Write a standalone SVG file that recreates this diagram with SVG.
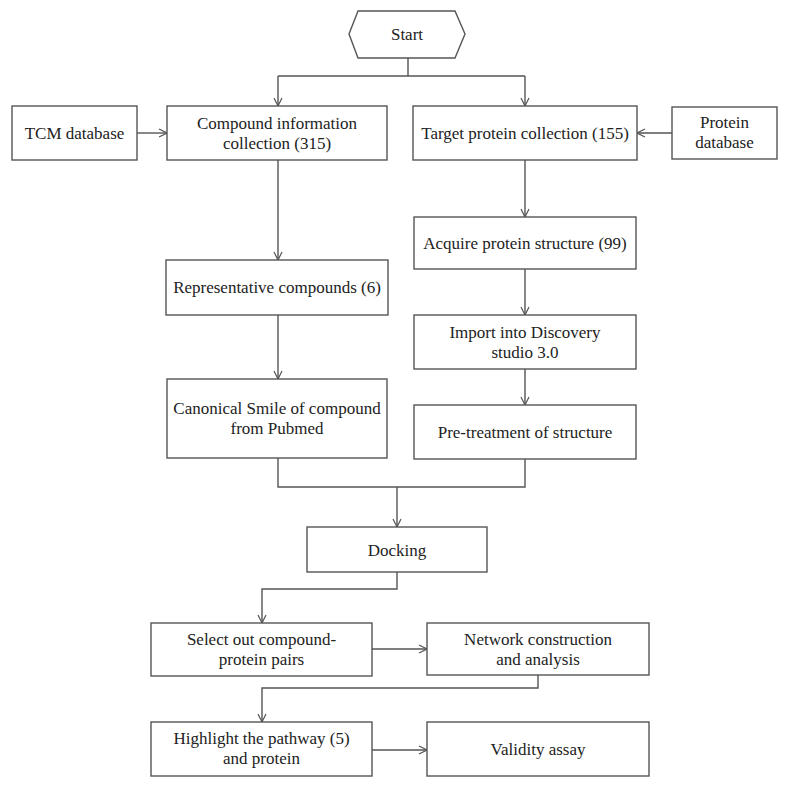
<svg xmlns="http://www.w3.org/2000/svg" width="788" height="787" viewBox="0 0 788 787">
<defs>
<style>
.box{fill:#fff;stroke:#555;stroke-width:1.4}
.t{font-family:"Liberation Serif","Times New Roman",serif;font-size:17px;fill:#222;text-anchor:middle}
.c{fill:none;stroke:#555;stroke-width:1.4}
</style>
<marker id="a" viewBox="0 0 10 10" refX="9" refY="5" markerWidth="10" markerHeight="10" markerUnits="userSpaceOnUse" orient="auto">
<path d="M1,1 L9,5 L1,9" fill="none" stroke="#555" stroke-width="1.2"/>
</marker>
</defs>
<rect width="788" height="787" fill="#fff"/>
<g id="connectors">
<path class="c" d="M408,58 V76 M278,76 H525"/>
<path class="c" d="M278,76 V106" marker-end="url(#a)"/>
<path class="c" d="M525,76 V106" marker-end="url(#a)"/>
<path class="c" d="M137,133 H167" marker-end="url(#a)"/>
<path class="c" d="M672,133 H637" marker-end="url(#a)"/>
<path class="c" d="M278,160 V260" marker-end="url(#a)"/>
<path class="c" d="M278,315 V379" marker-end="url(#a)"/>
<path class="c" d="M525,160 V217" marker-end="url(#a)"/>
<path class="c" d="M525,269 V315" marker-end="url(#a)"/>
<path class="c" d="M525,369 V405" marker-end="url(#a)"/>
<path class="c" d="M278,458 V487 H525 V459"/>
<path class="c" d="M397,487 V527" marker-end="url(#a)"/>
<path class="c" d="M397,572 V589 H262 V623" marker-end="url(#a)"/>
<path class="c" d="M372,649 H427" marker-end="url(#a)"/>
<path class="c" d="M538,675 V688 H262 V722" marker-end="url(#a)"/>
<path class="c" d="M372,750 H427" marker-end="url(#a)"/>
</g>
<g id="start"><polygon class="box" points="349,34 358,11 455,11 465,34 455,58 358,58"/><text class="t" x="407" y="40">Start</text></g>
<g id="tcm"><rect class="box" x="12" y="106" width="125" height="54"/><text class="t" x="74.5" y="139">TCM database</text></g>
<g id="compound"><rect class="box" x="167" y="106" width="220" height="54"/><text class="t" x="277" y="129">Compound information</text><text class="t" x="277" y="149">collection (315)</text></g>
<g id="target"><rect class="box" x="413" y="106" width="224" height="54"/><text class="t" x="525" y="139">Target protein collection (155)</text></g>
<g id="proteindb"><rect class="box" x="672" y="107" width="105" height="52"/><text class="t" x="724.5" y="128">Protein</text><text class="t" x="724.5" y="148">database</text></g>
<g id="rep"><rect class="box" x="166" y="260" width="222" height="55"/><text class="t" x="277" y="293">Representative compounds (6)</text></g>
<g id="acquire"><rect class="box" x="414" y="217" width="222" height="52"/><text class="t" x="525" y="249">Acquire protein structure (99)</text></g>
<g id="import"><rect class="box" x="414" y="315" width="222" height="54"/><text class="t" x="525" y="338">Import into Discovery</text><text class="t" x="525" y="358">studio 3.0</text></g>
<g id="canonical"><rect class="box" x="167" y="379" width="220" height="79"/><text class="t" x="277" y="414">Canonical Smile of compound</text><text class="t" x="277" y="434">from Pubmed</text></g>
<g id="pretreat"><rect class="box" x="414" y="405" width="222" height="54"/><text class="t" x="525" y="438">Pre-treatment of structure</text></g>
<g id="docking"><rect class="box" x="307" y="527" width="180" height="45"/><text class="t" x="397" y="556">Docking</text></g>
<g id="select"><rect class="box" x="151" y="623" width="221" height="53"/><text class="t" x="261.5" y="645">Select out compound-</text><text class="t" x="261.5" y="665">protein pairs</text></g>
<g id="network"><rect class="box" x="427" y="623" width="222" height="52"/><text class="t" x="538" y="645">Network construction</text><text class="t" x="538" y="665">and analysis</text></g>
<g id="highlight"><rect class="box" x="151" y="722" width="221" height="54"/><text class="t" x="261.5" y="744">Highlight the pathway (5)</text><text class="t" x="261.5" y="764">and protein</text></g>
<g id="validity"><rect class="box" x="427" y="722" width="222" height="54"/><text class="t" x="538" y="755">Validity assay</text></g>
</svg>
